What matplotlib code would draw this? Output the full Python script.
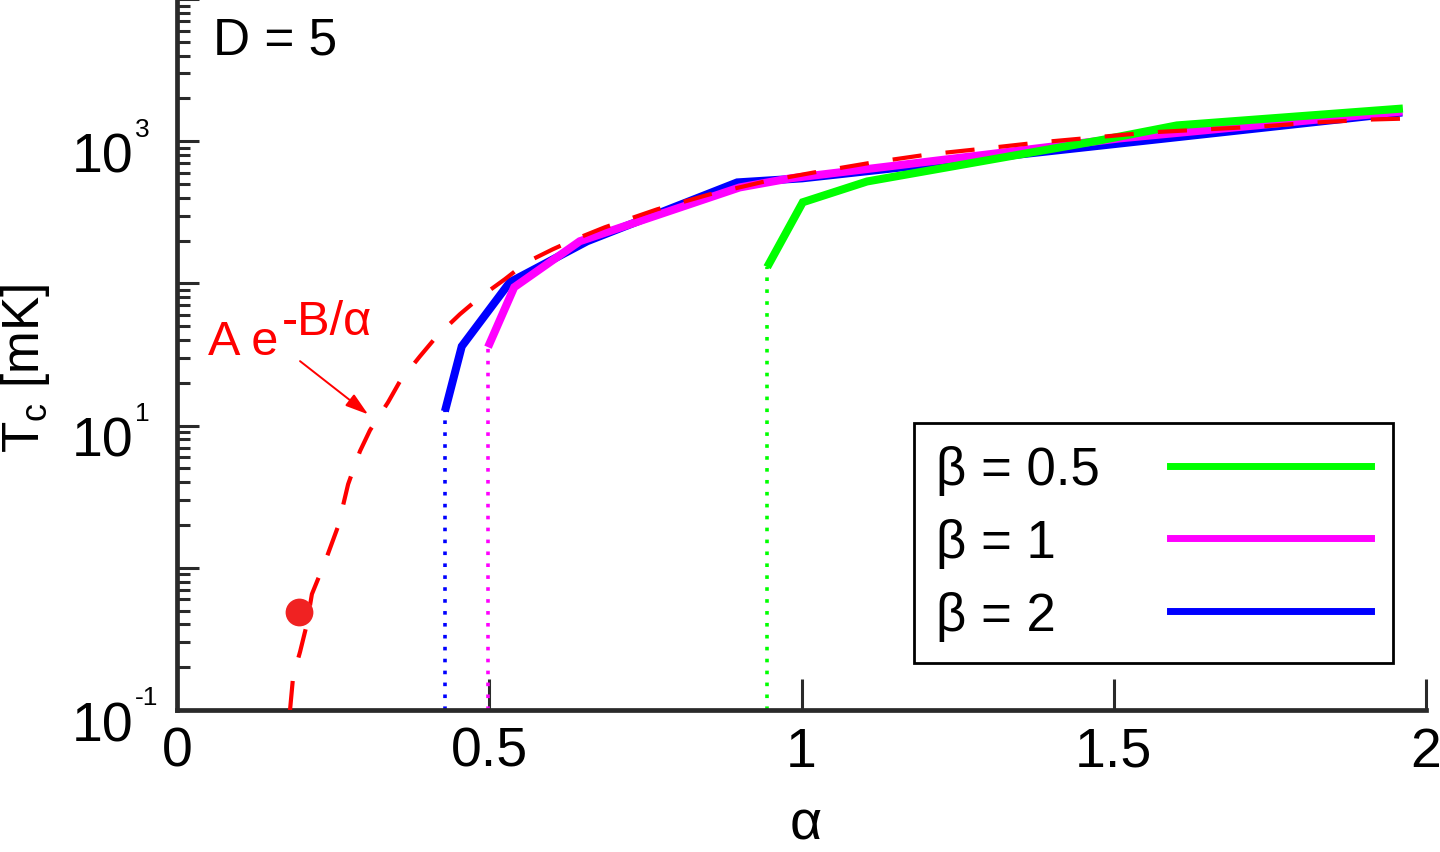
import matplotlib
matplotlib.use("Agg")
import matplotlib.pyplot as plt
from matplotlib.ticker import LogLocator, NullFormatter, FixedLocator
from matplotlib.lines import Line2D

plt.rcParams['font.family'] = ['Liberation Sans', 'DejaVu Sans']
plt.rcParams['mathtext.fontset'] = 'custom'
plt.rcParams['mathtext.rm'] = 'Liberation Sans'
plt.rcParams['mathtext.it'] = 'Liberation Sans:italic'

# ---------------- data ----------------
labels = ["β = 0.5", "β = 1", "β = 2"]
colors = ["#00ff00", "#ff00ff", "#0000ff"]

alpha_b05 = [0.945, 1.002, 1.105, 1.478, 1.601, 1.963]
tc_b05 = [130, 372, 521, 1014, 1291, 1698]

alpha_b1 = [0.498, 0.540, 0.645, 0.901, 0.982, 1.510, 1.962]
tc_b1 = [35.6, 94, 198, 473, 548, 1047, 1618]

alpha_b2 = [0.429, 0.456, 0.533, 0.657, 0.897, 1.001, 1.962]
tc_b2 = [12.6, 36.1, 102, 198, 513, 548, 1592]

# fitted curve A exp(-B/alpha)
alpha_fit = [0.181, 0.186, 0.197, 0.208, 0.216, 0.237, 0.258, 0.274, 0.293,
             0.309, 0.338, 0.357, 0.389, 0.416, 0.453, 0.485, 0.525, 0.560,
             0.602, 0.637, 0.685, 0.769, 0.853, 0.942, 1.030, 1.115, 1.203,
             1.294, 1.382, 1.470, 1.558, 1.648, 1.737, 1.825, 1.915, 1.974]
tc_fit = [0.100, 0.173, 0.256, 0.402, 0.653, 1.10, 1.96, 3.87, 6.61,
          9.28, 14.6, 20.5, 30.7, 42.5, 60.7, 79.8, 107, 141,
          174, 204, 248, 332, 423, 522, 614, 710, 807,
          889, 982, 1064, 1153, 1211, 1271, 1355, 1422, 1445]

dot_alpha = [0.195]
dot_tc = [0.489]

xticks = [0, 0.5, 1, 1.5, 2]
xticklabels = ["0", "0.5", "1", "1.5", "2"]
ylabel_exps = [-1, 1, 3]

# ---------------- figure ----------------
fig = plt.figure(figsize=(14.4, 8.53), dpi=100)
ax = fig.add_axes([177/1440, 1 - 711/853, 1249/1440, 711/853])

ax.set_xscale('linear')
ax.set_yscale('log')
ax.set_xlim(0, 2)
ax.set_ylim(0.1, 1e4)

lw = 5.8
series = [(alpha_b2, tc_b2, colors[2]), (alpha_b1, tc_b1, colors[1]), (alpha_b05, tc_b05, colors[0])]
for a, t, c in series:
    ax.plot(a, t, color=c, lw=lw, solid_capstyle='butt', solid_joinstyle='miter', zorder=3)
    ax.plot([a[0], a[0]], [0.1, t[0]], color=c, lw=2.6, linestyle=(0, (1, 2.3)),
            dash_capstyle='butt', zorder=2)

ax.plot(alpha_fit, tc_fit, color='#ff0000', lw=3.0, linestyle=(0, (7, 5.8)),
        dash_capstyle='butt', zorder=5)
ax.plot(dot_alpha, dot_tc, 'o', color='#f02222', ms=20, mec='none', zorder=6)

# annotation for the fit
ax.annotate('', xy=(0.306, 12.0), xytext=(0.197, 28.4),
            arrowprops=dict(arrowstyle='-|>,head_length=0.7,head_width=0.22',
                            color='#ff0000', lw=1.4, mutation_scale=20,
                            shrinkA=0, shrinkB=0), zorder=6)
ax.text(0.050, 31.8, 'A e', color='#ff0000', fontsize=35, va='baseline', ha='left')
ax.text(0.168, 43.9, '-B/α', color='#ff0000', fontsize=35, va='baseline', ha='left')

ax.text(0.029, 0.923, 'D = 5', transform=ax.transAxes, fontsize=37,
        va='baseline', ha='left')

# spines
for s in ['top', 'right']:
    ax.spines[s].set_visible(False)
for s in ['left', 'bottom']:
    ax.spines[s].set_linewidth(3.4)
    ax.spines[s].set_color('#2a2a2a')

# x ticks
ax.set_xticks(xticks)
ax.set_xticklabels(xticklabels)
ax.tick_params(axis='x', which='major', direction='in', length=22, width=2.2,
               color='#2a2a2a', labelsize=40, pad=11.5)
ax.tick_params(axis='x', which='minor', length=0)

# y ticks
ax.yaxis.set_major_locator(FixedLocator([10.0**k for k in range(-1, 5)]))
ax.yaxis.set_minor_locator(LogLocator(base=10, subs=range(2, 10), numticks=20))
ax.yaxis.set_major_formatter(NullFormatter())
ax.yaxis.set_minor_formatter(NullFormatter())
ax.tick_params(axis='y', which='major', direction='in', length=15.8, width=2.2,
               color='#2a2a2a')
ax.tick_params(axis='y', which='minor', direction='in', length=9.4, width=2.2,
               color='#2a2a2a')

for k in ylabel_exps:
    ax.annotate('10', xy=(0, 10.0**k), xycoords=('axes fraction', 'data'),
                xytext=(-31.5, -21.6), textcoords='offset points',
                ha='right', va='baseline', fontsize=40)
    ax.annotate(str(k), xy=(0, 10.0**k), xycoords=('axes fraction', 'data'),
                xytext=(-30.5, 4.0), textcoords='offset points',
                ha='left', va='baseline', fontsize=19)

# axis labels
ax.set_xlabel('α', fontsize=40)
ax.xaxis.set_label_coords(0.503, -0.124)
ax.set_ylabel(r'T$_{\mathrm{c}}$ [mK]', fontsize=37)
ax.yaxis.set_label_coords(-0.100, 0.482)

# legend (text first, line after)
leg_fs = 38
handles = [Line2D([], [], color=colors[i], lw=5.0) for i in range(3)]
leg = ax.legend(handles, labels, loc='upper left', bbox_to_anchor=(0.590, 0.4037),
                borderaxespad=0, markerfirst=False, fontsize=leg_fs,
                handlelength=3.8, handletextpad=1.33, labelspacing=0.43,
                borderpad=0.42, fancybox=False, framealpha=1, edgecolor='black')
leg.get_frame().set_linewidth(2.0)

# left-align the label texts: widen the text/handle gap of shorter rows
fig.canvas.draw()
renderer = fig.canvas.get_renderer()
px_per_pt = renderer.points_to_pixels(1.0)
text_w = [t.get_window_extent(renderer).width for t in leg.get_texts()]
wmax = max(text_w)
rows = leg._legend_handle_box.get_children()[0].get_children()
for row, w in zip(rows, text_w):
    row.sep = 1.33 * leg_fs + (wmax - w) / px_per_pt

fig.savefig('out.png', dpi=100)
